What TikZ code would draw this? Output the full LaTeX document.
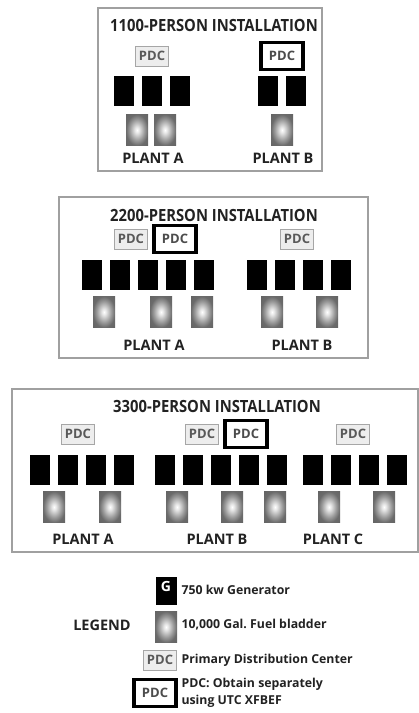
\documentclass[tikz,border=0pt]{standalone}
\usepackage{fontspec}
\setmainfont{Open Sans}
\newfontfamily\narrowfont[FakeStretch=0.88]{Open Sans}
\usetikzlibrary{positioning}

\definecolor{ink}{HTML}{222222}
\definecolor{framegray}{HTML}{A0A0A0}
\definecolor{pdcfill}{HTML}{EDEDED}
\pgfdeclareradialshading{bladdershade}{\pgfpoint{0bp}{0bp}}{color(0bp)=(white); color(5bp)=(black!10); color(17bp)=(black!40); color(25bp)=(black!58); color(50bp)=(black!65)}

\begin{document}
\begin{tikzpicture}[x=1pt,y=-1pt,node distance=28pt,every node/.style={text=ink},
  frame/.style={draw=framegray,line width=1.2pt},
  title/.style={font=\narrowfont\bfseries\fontsize{16.8}{17}\selectfont},
  plant/.style={font=\bfseries\fontsize{14.5}{15}\selectfont},
  gen/.style={fill=black,minimum width=20pt,minimum height=30pt,inner sep=0pt},
  bladder/.style={shading=bladdershade,minimum width=22pt,minimum height=31pt,inner sep=0pt},
  pdc/.style={draw=black!35,fill=pdcfill,line width=0.8pt,minimum width=33pt,minimum height=20pt,inner sep=0.5pt,
    font=\bfseries\fontsize{13}{13}\selectfont,text=black!65},
  pdcx/.style={draw=black,fill=white,line width=3.8pt,minimum width=42pt,minimum height=27pt,inner sep=0pt,
    font=\bfseries\fontsize{13}{13}\selectfont,text=black!70},
  legtext/.style={font=\bfseries\fontsize{12.3}{15}\selectfont,anchor=west,align=left}]
  \useasboundingbox (0,0) rectangle (419,713);

  % 1100-person installation
  \draw[frame] (98,8) rectangle (322,171);
  \node[title] (t1) at (214,25) {1100-PERSON INSTALLATION};
  \node[pdc]  (p1a) at (152,56) {PDC};
  \node[pdcx] (p1b) at (282,56) {PDC};
  \node[gen] (g1a1) at (124,91) {};
  \node[gen] (g1a2) [right of=g1a1] {};
  \node[gen] (g1a3) [right of=g1a2] {};
  \node[gen] (g1b1) at (268,91) {};
  \node[gen] (g1b2) [right of=g1b1] {};
  \node[bladder] (f1a1) at (137,130) {};
  \node[bladder] (f1a2) at (165,130) {};
  \node[bladder] (f1b1) at (282,130) {};
  \node[plant] (l1a) at (153,158) {PLANT A};
  \node[plant] (l1b) at (283,158) {PLANT B};

  % 2200-person installation
  \draw[frame] (59,197) rectangle (368,358);
  \node[title] (t2) at (214,215) {2200-PERSON INSTALLATION};
  \node[pdc]  (p2a) at (131,239) {PDC};
  \node[pdcx] (p2x) at (175,239) {PDC};
  \node[pdc]  (p2b) at (297,239) {PDC};
  \node[gen] (g2a1) at (92,275) {};
  \node[gen] (g2a2) [right of=g2a1] {};
  \node[gen] (g2a3) [right of=g2a2] {};
  \node[gen] (g2a4) [right of=g2a3] {};
  \node[gen] (g2a5) [right of=g2a4] {};
  \node[gen] (g2b1) at (257,275) {};
  \node[gen] (g2b2) [right of=g2b1] {};
  \node[gen] (g2b3) [right of=g2b2] {};
  \node[gen] (g2b4) [right of=g2b3] {};
  \node[bladder] (f2a1) at (104,312) {};
  \node[bladder] (f2a2) at (161,312) {};
  \node[bladder] (f2a3) at (202,312) {};
  \node[bladder] (f2b1) at (272,312) {};
  \node[bladder] (f2b2) at (327,312) {};
  \node[plant] (l2a) at (154,345) {PLANT A};
  \node[plant] (l2b) at (302,345) {PLANT B};

  % 3300-person installation
  \draw[frame] (12,389) rectangle (418,552);
  \node[title] (t3) at (217,406) {3300-PERSON INSTALLATION};
  \node[pdc]  (p3a) at (78,434) {PDC};
  \node[pdc]  (p3b) at (202,434) {PDC};
  \node[pdcx] (p3x) at (246,434) {PDC};
  \node[pdc]  (p3c) at (353,434) {PDC};
  \node[gen] (g3a1) at (40,470) {};
  \node[gen] (g3a2) [right of=g3a1] {};
  \node[gen] (g3a3) [right of=g3a2] {};
  \node[gen] (g3a4) [right of=g3a3] {};
  \node[gen] (g3b1) at (165,470) {};
  \node[gen] (g3b2) [right of=g3b1] {};
  \node[gen] (g3b3) [right of=g3b2] {};
  \node[gen] (g3b4) [right of=g3b3] {};
  \node[gen] (g3b5) [right of=g3b4] {};
  \node[gen] (g3c1) at (313,470) {};
  \node[gen] (g3c2) [right of=g3c1] {};
  \node[gen] (g3c3) [right of=g3c2] {};
  \node[gen] (g3c4) [right of=g3c3] {};
  \node[bladder] (f3a1) at (54,507) {};
  \node[bladder] (f3a2) at (110,507) {};
  \node[bladder] (f3b1) at (177,507) {};
  \node[bladder] (f3b2) at (232,507) {};
  \node[bladder] (f3b3) at (275,507) {};
  \node[bladder] (f3c1) at (329,507) {};
  \node[bladder] (f3c2) at (384,507) {};
  \node[plant] (l3a) at (83,539) {PLANT A};
  \node[plant] (l3b) at (217,539) {PLANT B};
  \node[plant] (l3c) at (333,539) {PLANT C};

  % legend
  \node[plant] (leg) at (102,625) {LEGEND};
  \node[gen,minimum width=21pt,minimum height=28pt] (kg) at (166,591) {};
  \node[font=\bfseries\fontsize{14}{14}\selectfont,text=white,inner sep=0pt] (kgl) [below=4pt of kg.north] {G};
  \node[legtext] (kgt) at (178,590) {750 kw Generator};
  \node[bladder] (kf) at (166,627) {};
  \node[legtext] (kft) at (178,625) {10,000 Gal.\ Fuel bladder};
  \node[pdc] (kp) at (160,660) {PDC};
  \node[legtext] (kpt) at (178,660) {Primary Distribution Center};
  \node[pdcx] (kx) at (155,693) {PDC};
  \node[legtext,font=\bfseries\fontsize{12.3}{17}\selectfont] (kxt) at (178,693) {PDC: Obtain separately\\using UTC XFBEF};
\end{tikzpicture}
\end{document}
